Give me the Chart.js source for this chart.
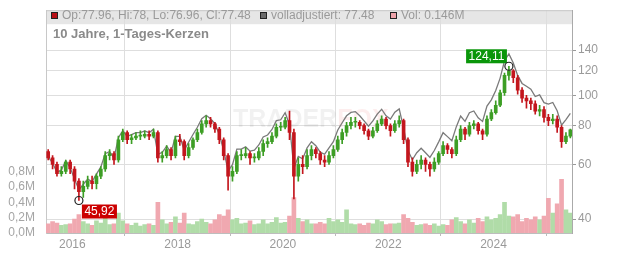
<!DOCTYPE html>
<html><head><meta charset="utf-8">
<script src="https://cdn.jsdelivr.net/npm/chart.js@4.4.0/dist/chart.umd.min.js"></script>
<style>html,body{margin:0;padding:0;background:#fff;}canvas{display:block;}</style>
</head><body>
<canvas id="c" width="632" height="253"></canvas>
<script>
const months = ("2015-07 2015-08 2015-09 2015-10 2015-11 2015-12 " +
"2016-01 2016-02 2016-03 2016-04 2016-05 2016-06 2016-07 2016-08 2016-09 2016-10 2016-11 2016-12 " +
"2017-01 2017-02 2017-03 2017-04 2017-05 2017-06 2017-07 2017-08 2017-09 2017-10 2017-11 2017-12 " +
"2018-01 2018-02 2018-03 2018-04 2018-05 2018-06 2018-07 2018-08 2018-09 2018-10 2018-11 2018-12 " +
"2019-01 2019-02 2019-03 2019-04 2019-05 2019-06 2019-07 2019-08 2019-09 2019-10 2019-11 2019-12 " +
"2020-01 2020-02 2020-03 2020-04 2020-05 2020-06 2020-07 2020-08 2020-09 2020-10 2020-11 2020-12 " +
"2021-01 2021-02 2021-03 2021-04 2021-05 2021-06 2021-07 2021-08 2021-09 2021-10 2021-11 2021-12 " +
"2022-01 2022-02 2022-03 2022-04 2022-05 2022-06 2022-07 2022-08 2022-09 2022-10 2022-11 2022-12 " +
"2023-01 2023-02 2023-03 2023-04 2023-05 2023-06 2023-07 2023-08 2023-09 2023-10 2023-11 2023-12 " +
"2024-01 2024-02 2024-03 2024-04 2024-05 2024-06 2024-07 2024-08 2024-09 2024-10 2024-11 2024-12 " +
"2025-01 2025-02 2025-03 2025-04 2025-05 2025-06").split(" ");

const open = [66,63,60,56,57,61,
58,53,49,51,53,52,55,58,64,65,62,72,
76,72,73,74,74,75,74,76,63,64,67,64,
72,71,64,68,72,76,81,83,81,78,72,64,
55,57,64,64,65,63,63,66,70,71,74,79,
79,83,76,55,60,59,64,67,65,62,61,64,
67,72,76,80,82,82,80,77,74,77,81,84,
80,77,81,83,72,61,57,60,62,60,58,61,
65,69,67,65,72,78,75,80,81,77,75,84,
88,93,102,116,120,114,104,98,96,94,89,90,
85,83,84,79,71,74];
const high = [67,64,61,59,62,62,
59,54,53,55,55,56,59,66,67,66,74,78,
77,75,76,77,77,77,78,77,66,69,68,74,
75,72,70,73,78,83,86,85,82,79,73,65,
59,66,67,68,66,65,68,72,73,76,81,82,
85,89,78,63,64,67,69,68,66,64,66,69,
74,78,82,85,85,83,81,78,79,83,86,85,
81,83,86,84,73,63,62,64,63,61,63,66,
71,70,68,74,80,79,82,83,82,78,86,90,
96,104,118,124.11,121,116,106,100,98,96,93,92,
87,87,86,80,76,78];
const low = [62,58,55,55,56,56,
50,45.92,47,50,50,50,54,57,62,60,61,71,
70,70,72,72,73,72,73,61,61,63,62,63,
69,62,63,67,71,75,79,79,76,70,62,49.6,
53,56,62,63,60,61,62,64,68,70,73,77,
78,72,46.5,53,56,58,62,63,60,59,60,63,
66,70,74,78,79,78,75,72,73,76,80,78,
74,76,79,70,59,55,56,58,57,55,57,60,
64,65,63,64,71,72,74,78,75,72,74,83,
87,92,100,112,110,101,95,91,90,87,86,82,
80,81,76,68,70,73];
const close = [63,60,56,57,61,58,
53,49,51,53,52,55,58,64,65,62,72,76,
72,73,74,74.5,75,74,76,63,64,67,64,72,
71,64,68,72,76,81,83,81,78,72,64,55,
57,64,64.5,65,63,63.5,66,70,71,74,79,79.5,
83,76,55,60,59,64,67,65,62,61,64,67,
72,76,80,82,82.5,80,77,74,77,81,84,80,
77,81,83,72,61,57,60,62,60,58,61,65,
69,67,65,72,78,75,80,81,77,75,84,88,
93,102,116,120,114,104,98,96,94,89,90,85,
83,84,79,71,74,77.48];
const adjusted = [63.6,60.6,56.6,57.6,61.6,58.6,
53.8,49.7,51.8,53.8,52.8,55.8,58.9,65.0,66.0,62.9,73.1,77.1,
73.8,74.8,75.9,75.9,76.9,75.9,77.9,64.6,65.6,68.7,65.6,73.8,
73.8,66.6,70.7,74.9,79.0,84.2,86.3,84.2,81.1,74.9,66.6,57.2,
59.9,67.2,67.2,68.3,66.2,66.7,69.3,73.5,74.6,77.7,83.0,83.5,
88.0,80.6,58.3,63.6,62.5,67.8,71.0,68.9,65.7,64.7,67.8,71.0,
77.4,81.7,86.0,88.2,88.7,86.0,82.8,79.6,82.8,87.1,90.3,86.0,
83.9,88.3,90.5,78.5,66.5,62.1,65.4,67.6,65.4,63.2,66.5,70.9,
75.9,73.7,71.5,79.2,85.8,82.5,88.0,89.1,84.7,82.5,92.4,96.8,
103.7,113.7,129.3,136.0,127.1,116.0,109.3,107.0,104.8,99.2,100.4,94.8,
93.8,94.9,89.3,80.2,83.6,87.5];
const volume = [0.12,0.15,0.13,0.10,0.11,0.12,
0.18,0.24,0.15,0.12,0.10,0.16,0.13,0.20,0.11,0.12,0.26,0.16,
0.12,0.10,0.13,0.09,0.11,0.12,0.10,0.40,0.17,0.12,0.14,0.21,
0.13,0.26,0.12,0.11,0.15,0.18,0.14,0.12,0.17,0.24,0.22,0.30,
0.17,0.19,0.12,0.13,0.16,0.11,0.12,0.17,0.12,0.14,0.20,0.13,
0.14,0.22,0.46,0.19,0.15,0.17,0.12,0.12,0.14,0.12,0.19,0.15,
0.17,0.14,0.30,0.12,0.11,0.12,0.10,0.13,0.12,0.17,0.15,0.11,
0.12,0.12,0.13,0.24,0.19,0.14,0.10,0.11,0.12,0.10,0.12,0.09,
0.11,0.10,0.17,0.20,0.15,0.12,0.17,0.13,0.19,0.15,0.21,0.17,
0.19,0.24,0.40,0.22,0.21,0.24,0.15,0.19,0.17,0.21,0.17,0.22,
0.45,0.26,0.38,0.70,0.30,0.26];

const priceTicks = [40,60,80,100,120,140];
const volumeTicks = [0,0.2,0.4,0.6,0.8];
const yearTicks = [2016,2018,2020,2022,2024];
const titleText = "10 Jahre, 1-Tages-Kerzen";
const legendTexts = ["Op:77.96, Hi:78, Lo:76.96, Cl:77.48", "volladjustiert: 77.48", "Vol: 0.146M"];

const F = "'Liberation Sans', Arial, sans-serif";
const RED = '#c3161d', GREEN = '#3d9e25';
const xs = months.map(m => { const p = m.split('-').map(Number); return p[0] + (p[1]-1)/12 + 1/24; });
const up = close.map((c,i) => c >= open[i]);

const deco = {
  id: 'deco',
  beforeDraw(chart) {
    const ctx = chart.ctx, a = chart.chartArea;
    ctx.save();
    ctx.fillStyle = '#fff'; ctx.fillRect(0,0,chart.width,chart.height);
    ctx.fillStyle = '#e6e6e6'; ctx.fillRect(a.left, a.top, a.right-a.left, 14);
    ctx.restore();
  },
  beforeDatasetsDraw(chart) {
    const ctx = chart.ctx;
    ctx.save();
    ctx.font = "bold 25px " + F; ctx.textBaseline = 'alphabetic';
    ctx.fillStyle = 'rgba(0,0,0,0.055)'; ctx.fillText('TRADER', 233, 127);
    const w = ctx.measureText('TRADER').width;
    ctx.fillStyle = 'rgba(230,0,0,0.07)'; ctx.fillText('FOX', 233 + w, 127);
    ctx.restore();
  },
  afterDatasetsDraw(chart) {
    const ctx = chart.ctx, sx = chart.scales.x, sy = chart.scales.y;
    let hi = 0, lo = 0;
    high.forEach((v,i) => { if (v > high[hi]) hi = i; });
    low.forEach((v,i) => { if (v < low[lo]) lo = i; });
    const fmt = v => v.toFixed(2).replace('.', ',');
    ctx.save();
    ctx.font = "12px " + F; ctx.textBaseline = 'middle'; ctx.textAlign = 'center';
    let cx = sx.getPixelForValue(xs[hi]), cy = sy.getPixelForValue(high[hi]);
    let t = fmt(high[hi]), tw = ctx.measureText(t).width + 5;
    ctx.fillStyle = '#0a960a'; ctx.fillRect(cx - 2 - tw, cy - 17, tw, 14);
    ctx.fillStyle = '#fff'; ctx.fillText(t, cx - 2 - tw/2, cy - 9.5);
    ctx.beginPath(); ctx.arc(cx, cy, 4, 0, Math.PI*2); ctx.strokeStyle = '#222'; ctx.lineWidth = 1.2; ctx.stroke();
    cx = sx.getPixelForValue(xs[lo]); cy = sy.getPixelForValue(low[lo]);
    t = fmt(low[lo]); tw = ctx.measureText(t).width + 5;
    ctx.fillStyle = '#cc0000'; ctx.fillRect(cx + 3, cy + 4, tw, 14);
    ctx.fillStyle = '#fff'; ctx.fillText(t, cx + 3 + tw/2, cy + 11.5);
    ctx.beginPath(); ctx.arc(cx, cy, 4, 0, Math.PI*2); ctx.strokeStyle = '#222'; ctx.lineWidth = 1.2; ctx.stroke();
    ctx.restore();
  },
  afterDraw(chart) {
    const ctx = chart.ctx, a = chart.chartArea;
    ctx.save();
    ctx.strokeStyle = '#c8c8c8'; ctx.lineWidth = 1;
    ctx.beginPath(); ctx.moveTo(a.left, a.top + 0.5); ctx.lineTo(a.right, a.top + 0.5); ctx.stroke();
    ctx.textBaseline = 'middle'; ctx.textAlign = 'left';
    ctx.font = "12px " + F;
    const items = [[51, '#b80f16', legendTexts[0]], [260, '#6a6a6a', legendTexts[1]], [390, '#eea3aa', legendTexts[2]]];
    items.forEach(([x, col, txt]) => {
      ctx.fillStyle = col; ctx.fillRect(x, 12, 7, 7);
      ctx.strokeStyle = '#222'; ctx.strokeRect(x + 0.5, 12.5, 6, 6);
      ctx.fillStyle = '#9a9a9a'; ctx.fillText(txt, x + 11, 16);
    });
    ctx.font = "bold 13px " + F; ctx.fillStyle = '#8a8a8a';
    ctx.fillText(titleText, 53, 34);
    ctx.restore();
  }
};

new Chart(document.getElementById('c'), {
  type: 'bar',
  data: {
    datasets: [
      { type: 'bar', label: 'body', data: xs.map((x,i) => ({x, y: [open[i], close[i]]})),
        backgroundColor: up.map(u => u ? GREEN : RED), barThickness: 3, grouped: false,
        xAxisID: 'x', yAxisID: 'y', order: 0, minBarLength: 1 },
      { type: 'bar', label: 'wick', data: xs.map((x,i) => ({x, y: [low[i], high[i]]})),
        backgroundColor: up.map(u => u ? GREEN : RED), barThickness: 1, grouped: false,
        xAxisID: 'x', yAxisID: 'y', order: 1 },
      { type: 'line', label: 'adj', data: xs.map((x,i) => ({x, y: adjusted[i]})),
        borderColor: '#7a7a7a', borderWidth: 1.3, pointRadius: 0, tension: 0,
        xAxisID: 'x', yAxisID: 'y', order: 2 },
      { type: 'bar', label: 'vol', data: xs.map((x,i) => ({x, y: volume[i]})),
        backgroundColor: up.map(u => u ? '#b0dca8' : '#f0a8b0'), barThickness: 4, grouped: false,
        xAxisID: 'x', yAxisID: 'v', order: 3 }
    ]
  },
  options: {
    responsive: false, animation: false,
    layout: { padding: { top: 8, left: 0, right: 0, bottom: 0 } },
    plugins: { legend: { display: false }, tooltip: { enabled: false } },
    scales: {
      x: { type: 'linear', position: 'bottom', min: 2015.5, max: 2025.49, offset: false,
        afterBuildTicks: s => { s.ticks = yearTicks.map(v => ({ value: v })); },
        ticks: { callback: v => String(v), color: '#9a9a9a', font: { size: 12, family: F }, padding: 1, maxRotation: 0, autoSkip: false },
        grid: { color: '#dedede', tickLength: 3, tickColor: '#bbb' },
        border: { color: '#bdbdbd' },
        afterFit: s => { s.height = 20; } },
      y: { type: 'logarithmic', position: 'right', min: 36.1, max: 188,
        afterBuildTicks: s => { s.ticks = priceTicks.map(v => ({ value: v })); },
        ticks: { callback: v => String(v), color: '#9a9a9a', font: { size: 12, family: F }, padding: 2 },
        grid: { color: '#dedede', tickLength: 4, tickColor: '#999' },
        border: { color: '#aaa' },
        afterFit: s => { s.width = 60; } },
      v: { type: 'linear', position: 'left', min: 0, max: 2.9,
        afterBuildTicks: s => { s.ticks = volumeTicks.map(v => ({ value: v })); },
        ticks: { callback: v => v.toFixed(1).replace('.', ',') + 'M', color: '#a5a5a5', font: { size: 12, family: F }, padding: 3 },
        grid: { display: false },
        border: { color: '#c8c8c8' },
        afterFit: s => { s.width = 46; } }
    }
  },
  plugins: [deco]
});
</script>
</body></html>
